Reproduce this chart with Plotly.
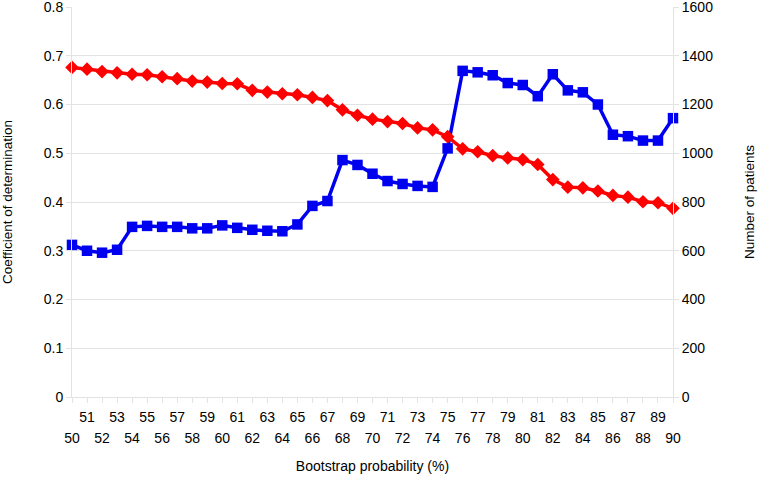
import plotly.graph_objects as go

bootstrap_prob = list(range(50, 91))

coef_determination = [0.312, 0.300, 0.296, 0.302, 0.349, 0.351, 0.349, 0.349, 0.346, 0.346,
                      0.352, 0.347, 0.343, 0.341, 0.340, 0.354, 0.392, 0.402, 0.486, 0.476,
                      0.458, 0.443, 0.437, 0.433, 0.431, 0.510, 0.669, 0.666, 0.660, 0.644,
                      0.640, 0.617, 0.662, 0.629, 0.625, 0.600, 0.538, 0.535, 0.526, 0.526,
                      0.572]

number_of_patients = [1352, 1345, 1335, 1330, 1324, 1322, 1314, 1306, 1296, 1292,
                      1286, 1285, 1258, 1251, 1244, 1240, 1229, 1216, 1178, 1156,
                      1140, 1130, 1122, 1104, 1096, 1068, 1018, 1006, 990, 981,
                      974, 954, 892, 861, 858, 845, 827, 820, 801, 797,
                      774]

left_ticks = [0, 0.1, 0.2, 0.3, 0.4, 0.5, 0.6, 0.7, 0.8]
left_tick_text = ["0", "0.1", "0.2", "0.3", "0.4", "0.5", "0.6", "0.7", "0.8"]
right_ticks = [0, 200, 400, 600, 800, 1000, 1200, 1400, 1600]

odd_ticks = [v for v in bootstrap_prob if v % 2 == 1]
even_ticks = [v for v in bootstrap_prob if v % 2 == 0]

font_family = "Liberation Sans, Arial, sans-serif"
grid_col = "#e3e3e3"

fig = go.Figure()
fig.add_trace(go.Scatter(
    x=bootstrap_prob, y=coef_determination, mode="lines+markers",
    name="Coefficient of determination", cliponaxis=False,
    line=dict(color="#0000f0", width=3.5),
    marker=dict(symbol="square", size=10.5, color="#0000f0"),
    xaxis="x", yaxis="y"))
fig.add_trace(go.Scatter(
    x=bootstrap_prob, y=number_of_patients, mode="lines+markers",
    name="Number of patients", cliponaxis=False,
    line=dict(color="#ff0000", width=3.5),
    marker=dict(symbol="diamond", size=10.5, color="#ff0000"),
    xaxis="x", yaxis="y2"))
# invisible trace so the second (even-label) x axis is rendered
fig.add_trace(go.Scatter(
    x=even_ticks, y=[None] * len(even_ticks), mode="markers", showlegend=False,
    hoverinfo="skip", xaxis="x2", yaxis="y"))

fig.update_layout(
    width=759, height=480,
    margin=dict(l=72, r=86, t=7, b=83),
    paper_bgcolor="white", plot_bgcolor="white",
    showlegend=False,
    font=dict(family=font_family, size=14, color="#000000"),
    xaxis=dict(
        range=[50, 90], tickmode="array", tickvals=odd_ticks,
        ticktext=[str(v) for v in odd_ticks],
        tickangle=0, ticks="", showticklabels=True, ticklabelstandoff=7,
        showgrid=False, showline=True, linecolor=grid_col, zeroline=False,
        automargin=False, ticklabeloverflow="allow",
        minor=dict(tickmode="array", tickvals=bootstrap_prob, ticks="outside",
                   ticklen=5, tickcolor=grid_col, showgrid=False),
    ),
    xaxis2=dict(
        range=[50, 90], overlaying="x", anchor="y", side="bottom",
        tickmode="array", tickvals=even_ticks, ticktext=[str(v) for v in even_ticks],
        tickangle=0, ticks="", ticklabelstandoff=31, ticklabeloverflow="allow",
        showgrid=False, showline=False, zeroline=False, automargin=False,
        title=dict(text="Bootstrap probability (%)", font=dict(size=14), standoff=16),
    ),
    yaxis=dict(
        range=[0, 0.8], tickmode="array", tickvals=left_ticks, ticktext=left_tick_text,
        showgrid=True, gridcolor=grid_col,
        showline=True, linecolor=grid_col, ticks="outside", ticklen=5, tickcolor=grid_col,
        zeroline=False, automargin=False, ticklabeloverflow="allow",
        title=dict(text="Coefficient of determination", font=dict(size=13.5), standoff=28),
    ),
    yaxis2=dict(
        range=[0, 1600], tickmode="array", tickvals=right_ticks, overlaying="y", side="right",
        showgrid=False, showline=True, linecolor=grid_col, ticks="outside", ticklen=5,
        tickcolor=grid_col, zeroline=False, automargin=False, ticklabeloverflow="allow",
        title=dict(text="Number of patients", font=dict(size=13.5), standoff=32),
    ),
)

fig.write_html(
    "out.html",
    config={"displayModeBar": False},
    post_script="document.body.style.margin='0';document.body.style.padding='0';",
)
